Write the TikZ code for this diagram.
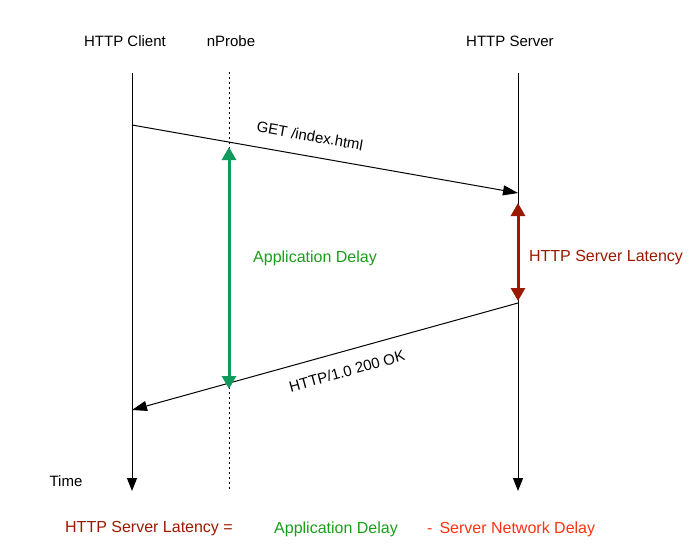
\documentclass[tikz,border=0pt]{standalone}
\usepackage{fontspec}
\setmainfont{Liberation Sans}
\usetikzlibrary{arrows.meta, positioning, calc}
\definecolor{delaygreen}{HTML}{109A5C}
\definecolor{textgreen}{HTML}{1A9E1A}
\definecolor{latencyred}{HTML}{9A1A00}
\definecolor{netred}{HTML}{FF3311}

\begin{document}
\begin{tikzpicture}[
    x=1pt, y=-1pt,
    lbl/.style={font=\fontsize{15}{17}\selectfont, inner sep=1pt},
    life/.style={line width=1pt, -{Triangle[length=13pt, width=10pt]}},
    msg/.style={line width=1pt, -{Triangle[length=15pt, width=10pt]}},
    span/.style={line width=3pt, {Triangle[length=13pt, width=14pt]}-{Triangle[length=13pt, width=14pt]}},
]
\useasboundingbox (0,0) rectangle (697,544);

% headers
\node[lbl] (client) at (125,41) {HTTP Client};
\node[lbl] (probe) at (231,41) {nProbe};
\node[lbl] (server) at (510,41) {HTTP Server};

% time lines
\coordinate (c-top) at (132,73);
\coordinate (c-bot) at (132,491);
\coordinate (p-top) at (229,72);
\coordinate (p-bot) at (229,489);
\coordinate (s-top) at (518,73);
\coordinate (s-bot) at (518,491);
\draw[life] (c-top) -- (c-bot);
\draw[line width=1pt, dash pattern=on 2pt off 3pt] (p-top) -- (p-bot);
\draw[life] (s-top) -- (s-bot);
\node[lbl] (time) at (66,481) {Time};

% messages
\coordinate (get-from) at (132,125);
\coordinate (get-to) at (518,193);
\coordinate (ok-from) at (518,303);
\coordinate (ok-to) at (132,410);
\draw[msg] (get-from) -- (get-to);
\draw[msg] (ok-from) -- (ok-to);
\node[lbl, rotate=-10] (get) at (310,136) {GET /index.html};
\node[lbl, rotate=15.5] (ok) at (347,371) {HTTP/1.0 200 OK};

% delays
\coordinate (app-top) at (229,147);
\coordinate (app-bot) at (229,389);
\coordinate (lat-top) at (518,203);
\coordinate (lat-bot) at (518,301);
\draw[span, delaygreen] (app-bot) -- (app-top);
\draw[span, latencyred] (lat-bot) -- (lat-top);
\node[lbl, text=textgreen, font=\fontsize{16}{18}\selectfont] (app) at (315,258) {Application Delay};
\node[lbl, text=latencyred, font=\fontsize{16}{18}\selectfont] (lat) at (606,258) {HTTP Server Latency};

% formula
\node[lbl, text=latencyred, font=\fontsize{16}{18}\selectfont] (f-lat) at (149,529) {HTTP Server Latency =};
\node[lbl, text=textgreen, font=\fontsize{16}{18}\selectfont] (f-app) at (336,529) {Application Delay};
\node[lbl, text=netred, anchor=west, font=\fontsize{16}{18}\selectfont] (f-net) at (426,529) {-\hspace{7pt}Server Network Delay};
\end{tikzpicture}
\end{document}
